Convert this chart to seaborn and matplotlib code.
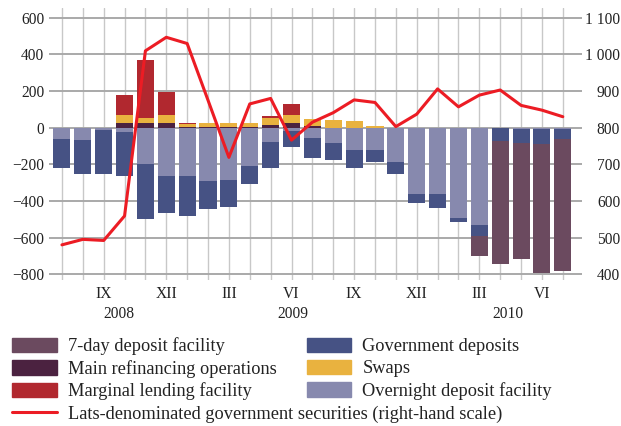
import matplotlib
matplotlib.use("Agg")
import matplotlib.pyplot as plt
import matplotlib.transforms as mtransforms
from matplotlib.patches import Patch
from matplotlib.lines import Line2D
import seaborn as sns
import pandas as pd

# ---------- Data (millions of lats, monthly Jul 2008 - Jul 2010) ----------
months = pd.period_range("2008-07", "2010-07", freq="M").astype(str).tolist()
month_labels = ["", "", "IX", "", "", "XII", "", "", "III", "", "", "VI", "",
                "", "IX", "", "", "XII", "", "", "III", "", "", "VI", ""]
years = ["2008", "2009", "2010"]

seven_day = [0, 0, 0, 0, 0, 0, 0, 0, 0, 0, 0, 0, 0,
             0, 0, 0, 0, 0, 0, 0, -109, -670, -632, -707, -718]
main_refi = [0, 0, 0, 26, 26, 26, 2, 5, 5, 2, 14, 26, 12,
             0, 0, 0, 0, 0, 0, 0, 0, 0, 0, 0, 0]
marginal = [0, 0, 0, 110, 317, 126, 6, 0, 0, 0, 10, 60, 0,
            0, 0, 0, 0, 0, 0, 0, 0, 0, 0, 0, 0]
gov_deposits = [-156, -184, -238, -237, -300, -200, -217, -151, -147, -97, -140, -88, -106,
                -93, -96, -65, -64, -48, -75, -22, -58, -70, -77, -80, -56]
swaps = [0, 0, 0, 42, 27, 43, 19, 20, 20, 22, 39, 43, 36,
         40, 35, 7, 0, 0, 0, 0, 0, 0, 0, 0, 0]
overnight = [-62, -67, -13, -25, -197, -264, -264, -291, -286, -209, -78, -16, -58,
             -82, -122, -122, -187, -362, -362, -492, -532, -3, -7, -7, -7]
securities = [480, 495, 492, 559, 1010, 1047, 1030, 875, 719, 865, 880, 766, 815,
              841, 876, 869, 803, 837, 906, 857, 889, 903, 861, 848, 830]

# ---------- Colours ----------
c_7day = "#6b4a5f"
c_main = "#4b2240"
c_marg = "#b1282f"
c_gov = "#465284"
c_swaps = "#e9b23f"
c_over = "#8789ae"
c_line = "#ec1c24"

df = pd.DataFrame({
    "idx": range(len(months)),
    "month": months,
    "seven_day": seven_day,
    "main": main_refi,
    "marginal": marginal,
    "gov": gov_deposits,
    "swaps": swaps,
    "overnight": overnight,
    "securities": securities,
})
# cumulative stacks, outermost drawn first
df["neg_all"] = df["overnight"] + df["gov"] + df["seven_day"]
df["neg_og"] = df["overnight"] + df["gov"]
df["pos_all"] = df["main"] + df["swaps"] + df["marginal"]
df["pos_ms"] = df["main"] + df["swaps"]

sns.set_theme(style="white")
plt.rcParams["font.family"] = ["Liberation Serif", "DejaVu Serif"]
plt.rcParams["axes.unicode_minus"] = True

fig = plt.figure(figsize=(6.21, 4.26), dpi=100)
ax = fig.add_axes([49 / 621, 1 - 280 / 426, 533 / 621, 272 / 426])

bar_w = 0.82
layers = [("neg_all", c_7day), ("neg_og", c_gov), ("overnight", c_over),
          ("pos_all", c_marg), ("pos_ms", c_swaps), ("main", c_main)]
for col, colr in layers:
    sns.barplot(data=df, x="idx", y=col, color=colr, width=bar_w, saturation=1,
                errorbar=None, linewidth=0, ax=ax)

ax.set_xlim(-0.62, 24.92)
ax.set_ylim(-832, 654)
ax.set_xlabel("")
ax.set_ylabel("")

left_ticks = list(range(-800, 601, 200))
ax.set_yticks(left_ticks, [str(v).replace("-", "\u2212") for v in left_ticks])
ax.set_xticks(range(len(months)), month_labels)
ax.tick_params(axis="y", length=0, pad=3.4, labelsize=11.2, labelcolor="#222222")
ax.tick_params(axis="x", length=0, pad=4.2, labelsize=11.2, labelcolor="#222222")

ax.set_axisbelow(True)
ax.yaxis.grid(True, color="#a9a9a9", linewidth=1.4)
ax.xaxis.grid(True, color="#c8c8c8", linewidth=1.0)
for s in ax.spines.values():
    s.set_visible(False)

# ---------- Right-hand scale ----------
ax2 = ax.twinx()
sns.lineplot(x=df["idx"], y=df["securities"], color=c_line, linewidth=2.2, ax=ax2)
ax2.set_ylim(800 - 832 / 2, 800 + 654 / 2)
right_ticks = list(range(400, 1101, 100))
ax2.set_yticks(right_ticks, [f"{v:,}".replace(",", " ") for v in right_ticks], ha="right")
ax2.tick_params(axis="y", length=0, pad=27.5, labelsize=11.2, labelcolor="#222222")
ax2.set_xlim(-0.62, 24.92)
ax2.set_xlabel("")
ax2.set_ylabel("")
ax2.grid(False)
for s in ax2.spines.values():
    s.set_visible(False)

# ---------- Year labels ----------
trans = mtransforms.blended_transform_factory(ax.transData, fig.transFigure)
for pos, yr in zip([2.73, 11.07, 21.35], years):
    ax.text(pos, 1 - 314 / 426, yr, transform=trans, ha="center", va="center",
            fontsize=11.2, color="#222222")

# ---------- Legend ----------
leg_kw = dict(loc="upper left", frameon=False, fontsize=13.2, borderpad=0,
              borderaxespad=0, handlelength=2.42, handleheight=0.84,
              handletextpad=0.6, labelspacing=0.25, labelcolor="#222222")
h_left = [Patch(color=c_7day, label="7-day deposit facility"),
          Patch(color=c_main, label="Main refinancing operations"),
          Patch(color=c_marg, label="Marginal lending facility"),
          Line2D([], [], color=c_line, linewidth=2.2,
                 label="Lats-denominated government securities (right-hand scale)")]
h_right = [Patch(color=c_gov, label="Government deposits"),
           Patch(color=c_swaps, label="Swaps"),
           Patch(color=c_over, label="Overnight deposit facility")]
fig.legend(handles=h_left, bbox_to_anchor=(12.3 / 621, 1 - 337.5 / 426), **leg_kw)
fig.legend(handles=h_right, bbox_to_anchor=(307 / 621, 1 - 337.5 / 426), **leg_kw)

fig.savefig("out.png", dpi=100)
